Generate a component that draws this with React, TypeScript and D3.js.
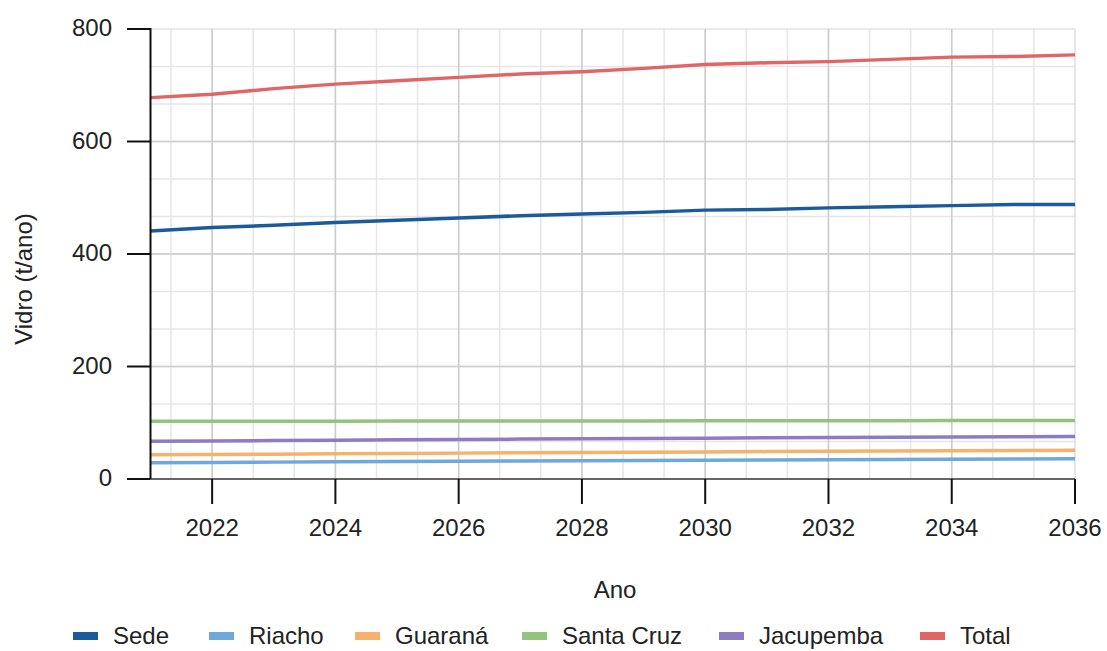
import React from "react";
import * as d3 from "d3";

const years = [2021, 2022, 2023, 2024, 2025, 2026, 2027, 2028, 2029, 2030, 2031, 2032, 2033, 2034, 2035, 2036];
const sede = [441, 447, 451, 456, 460, 464, 468, 471, 474, 478, 479, 482, 484, 486, 488, 488];
const riacho = [28.9, 29.4, 30.0, 30.5, 31.0, 31.5, 32.0, 32.4, 32.9, 33.4, 33.8, 34.3, 34.7, 35.1, 35.5, 35.9];
const guarana = [43.0, 43.6, 44.2, 44.8, 45.4, 46.0, 46.6, 47.1, 47.7, 48.2, 48.7, 49.2, 49.7, 50.2, 50.6, 51.0];
const santaCruz = [102.5, 102.6, 102.7, 102.8, 102.9, 103.0, 103.1, 103.2, 103.3, 103.4, 103.5, 103.6, 103.7, 103.8, 103.9, 104.0];
const jacupemba = [67.0, 67.7, 68.4, 69.1, 69.7, 70.3, 70.9, 71.5, 72.1, 72.6, 73.2, 73.7, 74.2, 74.7, 75.2, 75.7];
const total = [678, 684, 694, 702, 708, 714, 720, 724, 730, 737, 740, 742, 746, 750, 751, 754];

const seriesNames = ["Sede", "Riacho", "Guaraná", "Santa Cruz", "Jacupemba", "Total"];
const seriesValues = [sede, riacho, guarana, santaCruz, jacupemba, total];
const seriesColors = ["#1c5b9b", "#6fa8dc", "#f6b26b", "#93c47d", "#8e7cc3", "#e06666"];

const xTicks = [2022, 2024, 2026, 2028, 2030, 2032, 2034, 2036];
const yTicks = [0, 200, 400, 600, 800];

export default function App() {
  const x = d3.scaleLinear().domain([2021, 2036]).range([150.5, 1075]);
  const y = d3.scaleLinear().domain([0, 800]).range([479, 29]);
  const font = "Arial, 'Liberation Sans', sans-serif";

  const minorX: number[] = [];
  for (let k = 1; k <= 22; k++) minorX.push(2022 + ((k - 2) * 2) / 3);
  const minorY: number[] = [];
  for (let k = 1; k < 12; k++) minorY.push((k * 200) / 3);

  const line = d3
    .line<number>()
    .x((_, i) => x(years[i]))
    .y((v) => y(v));

  const legendX = [73, 209, 355, 522, 719, 920];

  return (
    <svg
      width={1107}
      height={651}
      style={{ position: "absolute", left: 0, top: 0, background: "#fff" }}
      fontFamily={font}
    >
      <rect x={0} y={0} width={1107} height={651} fill="#fff" />
      {minorX
        .filter((v) => v > 2021.01 && v < 2036.01)
        .map((v, i) => (
          <line key={"mx" + i} x1={x(v)} x2={x(v)} y1={y(800)} y2={y(0)} stroke="#e6e6e6" strokeWidth={1.5} />
        ))}
      {minorY.map((v, i) => (
        <line key={"my" + i} x1={x(2021)} x2={x(2036)} y1={y(v)} y2={y(v)} stroke="#e6e6e6" strokeWidth={1.5} />
      ))}
      <line x1={x(2021)} x2={x(2036)} y1={y(800)} y2={y(800)} stroke="#e3e3e3" strokeWidth={1.5} />
      {xTicks
        .filter((v) => v < 2036)
        .map((v) => (
          <line key={"gx" + v} x1={x(v)} x2={x(v)} y1={y(800)} y2={y(0)} stroke="#cccccc" strokeWidth={1.5} />
        ))}
      <line x1={x(2036)} x2={x(2036)} y1={y(800)} y2={y(0)} stroke="#dedede" strokeWidth={1.5} />
      {yTicks
        .filter((v) => v > 0 && v < 800)
        .map((v) => (
          <line key={"gy" + v} x1={x(2021)} x2={x(2036)} y1={y(v)} y2={y(v)} stroke="#cccccc" strokeWidth={1.5} />
        ))}

      {seriesValues.map((vals, i) => (
        <path
          key={seriesNames[i]}
          d={line(vals) || ""}
          fill="none"
          stroke={seriesColors[i]}
          strokeWidth={3.5}
          strokeLinejoin="round"
        />
      ))}

      <line x1={x(2021)} x2={x(2036)} y1={y(0)} y2={y(0)} stroke="#333" strokeWidth={1.5} />
      {xTicks.map((v) => (
        <g key={"xt" + v}>
          <line x1={x(v)} x2={x(v)} y1={y(0)} y2={y(0) + 25} stroke="#111" strokeWidth={2} />
          <text x={x(v)} y={536} textAnchor="middle" fontSize={24} fill="#222">
            {v}
          </text>
        </g>
      ))}
      <line x1={x(2021)} x2={x(2021)} y1={y(800) - 1} y2={y(0)} stroke="#111" strokeWidth={2} />
      {yTicks.map((v) => (
        <g key={"yt" + v}>
          <line x1={127} x2={x(2021)} y1={y(v)} y2={y(v)} stroke="#111" strokeWidth={2} />
          <text x={112} y={y(v)} dy="0.3em" textAnchor="end" fontSize={24} fill="#222">
            {v}
          </text>
        </g>
      ))}

      <text x={615} y={598} textAnchor="middle" fontSize={24} fill="#222">
        Ano
      </text>
      <text transform={`translate(32, 279) rotate(-90)`} textAnchor="middle" fontSize={24} fill="#222">
        Vidro (t/ano)
      </text>

      {seriesNames.map((name, i) => (
        <g key={"lg" + name} transform={`translate(${legendX[i]}, 636)`}>
          <rect x={0} y={-4} width={25} height={8} fill={seriesColors[i]} />
          <text x={40} y={0} dy="0.35em" fontSize={24} fill="#222">
            {name}
          </text>
        </g>
      ))}
    </svg>
  );
}
